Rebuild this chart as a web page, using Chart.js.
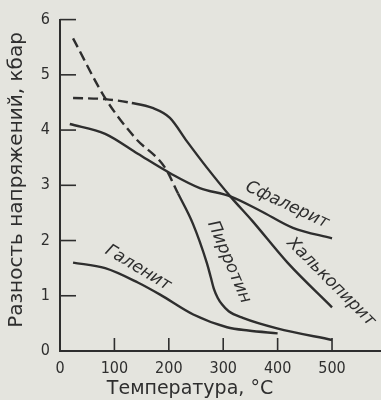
<!DOCTYPE html>
<html>
<head>
<meta charset="utf-8">
<script src="https://cdn.jsdelivr.net/npm/chart.js@4.4.1/dist/chart.umd.min.js"></script>
<style>
html,body{margin:0;padding:0;background:#e4e4de;}
#wrap{width:381px;height:400px;position:relative;}
</style>
</head>
<body>
<div id="wrap"><canvas id="stressChart" width="381" height="400"></canvas></div>
<script>
// Разность напряжений vs температура

const xTicks=[0,100,200,300,400,500];
const yTicks=[0,1,2,3,4,5,6];

const pyrrhotiteT=[24,83,138,193,217,244,270,277,283,290,298,310,336,399,500];
const pyrrhotiteP=[5.66,4.58,3.86,3.32,2.85,2.31,1.59,1.34,1.12,0.96,0.84,0.72,0.60,0.41,0.20];

const chalcopyriteT=[24,83,132,170,202,233,270,313,353,419,500];
const chalcopyriteP=[4.58,4.56,4.49,4.40,4.22,3.80,3.32,2.80,2.36,1.59,0.79];

const sphaleriteT=[18,83,143,204,257,313,368,428,500];
const sphaleriteP=[4.11,3.93,3.57,3.21,2.95,2.80,2.54,2.23,2.04];

const galenaT=[24,83,143,184,245,307,346,400];
const galenaP=[1.60,1.50,1.24,1.02,0.66,0.43,0.37,0.32];

// где кончается штриховая часть
const pyrrhotiteDashEnd=217;
const chalcopyriteDashEnd=132;

const ink="#2e2e2e";
const font="'DejaVu Sans Condensed','DejaVu Sans',sans-serif";
const wide="'DejaVu Sans',sans-serif";

function pts(t,p){return t.map((v,i)=>({x:v,y:p[i]}));}

function curve(t,p,dashEnd){
return {
data:pts(t,p),
borderColor:ink,
borderWidth:2.4,
pointRadius:0,
fill:false,
cubicInterpolationMode:"monotone",
segment:{
borderDash:ctx=>(dashEnd!=null&&ctx.p1.parsed.x<=dashEnd)?[10,5]:undefined
}
};
}

const decor={
id:"decor",
afterDraw(chart){
const c=chart.ctx,x=chart.scales.x,y=chart.scales.y,a=chart.chartArea;
c.save();
c.strokeStyle=ink;
c.lineWidth=1.6;
// засечки внутрь
xTicks.forEach(v=>{
if(v===0)return;
const px=x.getPixelForValue(v);
c.beginPath();c.moveTo(px,a.bottom);c.lineTo(px,a.bottom-13);c.stroke();
});
yTicks.forEach(v=>{
if(v===0)return;
const py=y.getPixelForValue(v);
c.beginPath();c.moveTo(a.left,py);c.lineTo(a.left+16,py);c.stroke();
});
c.fillStyle=ink;
c.textAlign="center";
c.textBaseline="middle";
// подписи осей
c.font="19px "+wide;
c.fillText("Температура, °С",190,389);
c.save();
c.translate(17,180);
c.rotate(-Math.PI/2);
c.font="20px "+wide;
c.fillText("Разность напряжений, кбар",0,0);
c.restore();
// подписи кривых
c.font="italic 17px "+wide;
[["Сфалерит",287,205,25],["Халькопирит",331,282,45],["Пирротин",229,262,67],["Галенит",138,268,31]].forEach(l=>{
c.save();
c.translate(l[1],l[2]);
c.rotate(l[3]*Math.PI/180);
c.fillText(l[0],0,0);
c.restore();
});
c.restore();
}
};

new Chart(
document.getElementById("stressChart"),
{
type:"line",
data:{
datasets:[
curve(pyrrhotiteT,pyrrhotiteP,pyrrhotiteDashEnd),
curve(chalcopyriteT,chalcopyriteP,chalcopyriteDashEnd),
curve(sphaleriteT,sphaleriteP,null),
curve(galenaT,galenaP,null)
]
},
options:{
responsive:false,
animation:false,
layout:{padding:{top:18,right:0,left:0,bottom:0}},
plugins:{legend:{display:false},tooltip:{enabled:false}},
scales:{
x:{
type:"linear",
min:0,
max:590,
afterBuildTicks:s=>{s.ticks=xTicks.map(v=>({value:v}));},
afterFit:s=>{s.height=49;},
grid:{display:false,drawTicks:false},
border:{display:true,color:ink,width:2},
ticks:{color:ink,font:{family:font,size:16},padding:8,maxRotation:0}
},
y:{
min:0,
max:6,
afterBuildTicks:s=>{s.ticks=yTicks.map(v=>({value:v}));},
afterFit:s=>{s.width=60;},
grid:{display:false,drawTicks:false},
border:{display:true,color:ink,width:2},
ticks:{color:ink,font:{family:font,size:16},padding:10}
}
}
},
plugins:[decor]
}
);
</script>
</body>
</html>
